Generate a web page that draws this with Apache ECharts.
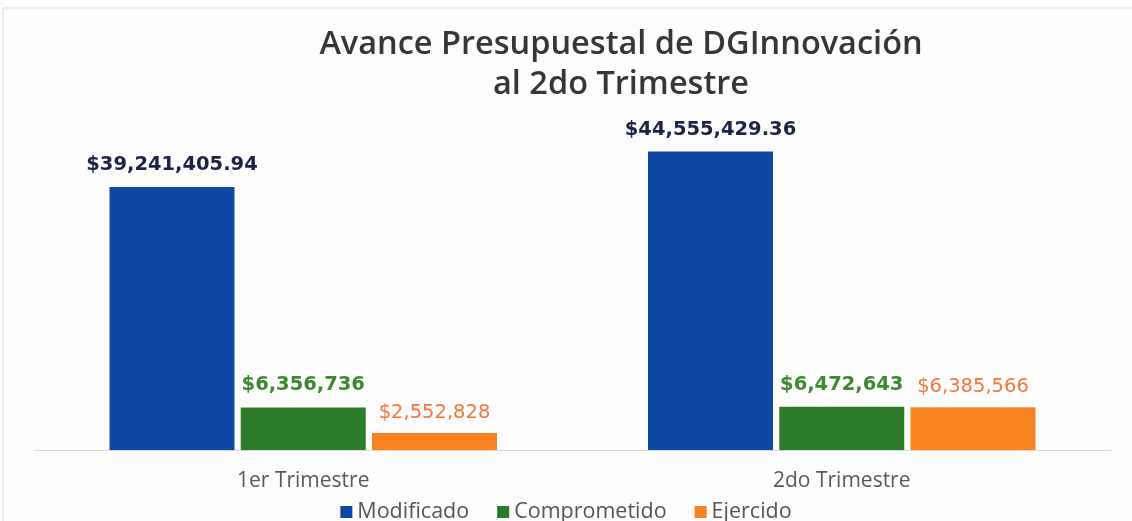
<!DOCTYPE html>
<html>
<head>
<meta charset="utf-8">
<script src="https://cdn.jsdelivr.net/npm/echarts@6/dist/echarts.min.js"></script>
<style>
  html, body { margin: 0; padding: 0; background: #fdfdfd; }
  #chart { width: 1132px; height: 521px; }
</style>
</head>
<body>
<div id="chart"></div>
<script>
// datos
const categories = ["1er Trimestre", "2do Trimestre"];
const modificado = [39241405.94, 44555429.36];
const comprometido = [6356736, 6472643];
const ejercido = [2552828, 6385566];

const chart = echarts.init(document.getElementById("chart"));

function money(v, dec) {
  return "$" + v.toLocaleString("en-US", {
    minimumFractionDigits: dec,
    maximumFractionDigits: dec,
  });
}

const labelFont = "'DejaVu Sans', sans-serif";

const option = {
  backgroundColor: "#fdfdfd",
  // marco tenue del recuadro escaneado
  graphic: [
    {
      type: "rect",
      shape: { x: 3, y: 8, width: 1140, height: 540 },
      style: { fill: "none", stroke: "#e6e6e6", lineWidth: 1.5 },
      silent: true,
    },
  ],
  title: {
    text: "Avance Presupuestal de DGInnovación\nal 2do Trimestre",
    left: 616,
    top: 20,
    textAlign: "center",
    textStyle: {
      fontFamily: "'Open Sans', sans-serif",
      fontSize: 32.5,
      fontWeight: 600,
      color: "#363636",
      lineHeight: 40,
    },
  },
  legend: {
    top: 496,
    left: "center",
    itemWidth: 12,
    itemHeight: 12,
    itemGap: 28,
    icon: "rect",
    textStyle: {
      fontFamily: "'Open Sans', sans-serif",
      fontSize: 21.5,
      color: "#555555",
    },
  },
  grid: {
    left: 34,
    right: 21,
    top: 115,
    bottom: 71,
  },
  xAxis: {
    type: "category",
    data: categories,
    axisLine: { lineStyle: { color: "#d9d9d9", width: 1 } },
    axisTick: { show: false },
    axisLabel: {
      margin: 21,
      fontFamily: "'Open Sans', sans-serif",
      fontSize: 21,
      color: "#595959",
    },
  },
  yAxis: {
    type: "value",
    min: 0,
    max: 50000000,
    show: false,
    splitLine: { show: false },
  },
  series: [
    {
      name: "Modificado",
      type: "bar",
      data: modificado,
      barWidth: 125,
      barGap: "5%",
      itemStyle: { color: "#0f49a5" },
      label: {
        show: true,
        position: "top",
        distance: 12,
        formatter: (p) => money(p.value, 2),
        fontFamily: labelFont,
        fontSize: 19.5,
        fontWeight: "bold",
        color: "#1b2445",
      },
    },
    {
      name: "Comprometido",
      type: "bar",
      data: comprometido,
      barWidth: 125,
      itemStyle: { color: "#2e7a2b" },
      label: {
        show: true,
        position: "top",
        distance: 12,
        formatter: (p) => money(p.value, 0),
        fontFamily: labelFont,
        fontSize: 19.5,
        fontWeight: "bold",
        color: "#3c8a30",
      },
    },
    {
      name: "Ejercido",
      type: "bar",
      data: ejercido,
      barWidth: 125,
      itemStyle: { color: "#f7821f" },
      label: {
        show: true,
        position: "top",
        distance: 10,
        formatter: (p) => money(p.value, 0),
        fontFamily: labelFont,
        fontSize: 19.5,
        fontWeight: 500,
        color: "#f0763a",
      },
    },
  ],
};

chart.setOption(option);
</script>
</body>
</html>
